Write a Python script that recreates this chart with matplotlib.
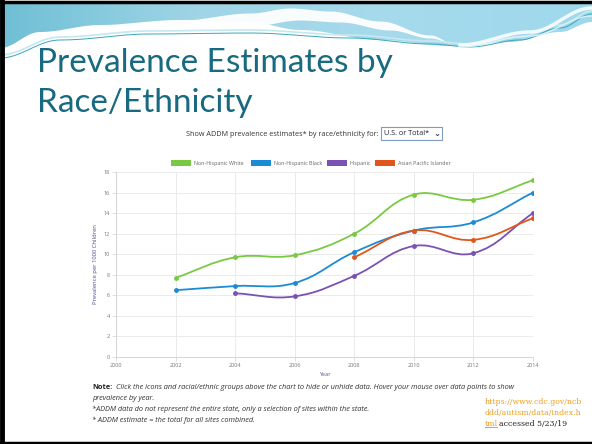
import numpy as np
import matplotlib.pyplot as plt
from matplotlib.path import Path
from matplotlib.patches import PathPatch, Rectangle
from matplotlib.colors import LinearSegmentedColormap

# ----------------------------------------------------
# Data
# ----------------------------------------------------
years = [2002, 2004, 2006, 2008, 2010, 2012, 2014]
white = [7.7, 9.7, 9.9, 12.0, 15.8, 15.3, 17.2]
black = [6.5, 6.9, 7.2, 10.2, 12.3, 13.1, 16.0]
hisp_years = [2004, 2006, 2008, 2010, 2012, 2014]
hispanic = [6.2, 5.9, 7.9, 10.8, 10.1, 14.0]
api_years = [2008, 2010, 2012, 2014]
api = [9.7, 12.3, 11.4, 13.5]

series_names = ["Non-Hispanic White", "Non-Hispanic Black", "Hispanic",
                "Asian Pacific Islander"]
colors = ["#7ac943", "#1c8bd6", "#7a52b3", "#e0561c"]

x_ticks = list(range(2000, 2015, 2))
y_ticks = list(range(0, 19, 2))

W, H = 592, 444


def smooth_path(xs, ys, sx=29.8, sy=10.28, tension=0.4):
    """Bezier path through the points, chart.js style control points."""
    px = np.array(xs, dtype=float)
    py = np.array(ys, dtype=float)
    n = len(px)
    cps = []
    for i in range(n):
        prv = max(i - 1, 0)
        nxt = min(i + 1, n - 1)
        d01 = np.hypot((px[i] - px[prv]) * sx, (py[i] - py[prv]) * sy)
        d12 = np.hypot((px[nxt] - px[i]) * sx, (py[nxt] - py[i]) * sy)
        tot = d01 + d12 if d01 + d12 > 0 else 1
        fa = tension * d01 / tot
        fb = tension * d12 / tot
        dx = px[nxt] - px[prv]
        dy = py[nxt] - py[prv]
        cps.append(((px[i] - fa * dx, py[i] - fa * dy),
                    (px[i] + fb * dx, py[i] + fb * dy)))
    verts = [(px[0], py[0])]
    codes = [Path.MOVETO]
    for i in range(n - 1):
        verts += [cps[i][1], cps[i + 1][0], (px[i + 1], py[i + 1])]
        codes += [Path.CURVE4] * 3
    return Path(verts, codes)


def curve(xp, yp, xs):
    # smooth-ish decoration curve (cosine easing between knots)
    out = np.empty_like(xs)
    for k, x in enumerate(xs):
        i = np.clip(np.searchsorted(xp, x) - 1, 0, len(xp) - 2)
        t = (x - xp[i]) / (xp[i + 1] - xp[i])
        t = (1 - np.cos(np.pi * np.clip(t, 0, 1))) / 2
        out[k] = yp[i] + (yp[i + 1] - yp[i]) * t
    return out


fig = plt.figure(figsize=(W / 100, H / 100), dpi=100)
fig.patch.set_facecolor("white")

# ---- slide background / decoration (pixel coords) ----
bg = fig.add_axes([0, 0, 1, 1])
bg.set_xlim(0, W)
bg.set_ylim(H, 0)
bg.axis("off")

xx = np.linspace(0, W, 400)
bot = curve([0, 40, 100, 180, 250, 300, 380, 450, 510, 560, 592],
            [48, 32, 25, 20, 22, 30, 40, 46, 42, 32, 22], xx)
grad = np.linspace(0, 1, 256).reshape(1, -1)
im = bg.imshow(grad, extent=[0, W, 60, 4], aspect="auto",
               cmap=LinearSegmentedColormap.from_list(
                   "hdr", ["#6fbfd5", "#9fd5e6", "#a6daec", "#9fd8ec"]),
               zorder=0)
im.set_clip_path(PathPatch(Path(np.column_stack(
    [np.r_[xx, xx[::-1]], np.r_[np.full_like(xx, 4), bot[::-1]]])),
    transform=bg.transData))

# white swoosh
wx = np.linspace(40, 455, 300)
up = curve([40, 100, 180, 250, 290, 330, 380, 430, 455],
           [32, 25, 20, 13, 8, 11, 21, 35, 44], wx)
lo = curve([40, 100, 180, 250, 300, 340, 390, 430, 455],
           [40, 33, 30, 26, 20, 22, 30, 38, 44], wx)
bg.fill_between(wx, up, lo, color="white", lw=0, alpha=0.95, zorder=1)
# thin teal lines
ty = curve([0, 60, 150, 250, 350, 430, 470, 520, 560, 592],
           [58, 40, 34, 33, 38, 44, 47, 40, 28, 14], xx)
bg.plot(xx, ty, color="#3aa6b8", lw=0.7, zorder=2)
bg.plot(xx, ty - 3, color="#c4e8f0", lw=1.2, zorder=2)
rx = np.linspace(460, 592, 100)
bg.plot(rx, curve([460, 530, 592], [45, 32, 8], rx), color="white", lw=2.5,
        alpha=0.85, zorder=2)
bg.plot(rx, curve([460, 530, 592], [47, 36, 16], rx), color="#d8f0f6", lw=1,
        zorder=2)

# slide border
bg.plot([2, 2], [0, H], color="black", lw=3.5, zorder=5)
bg.plot([0, W], [2, 2], color="black", lw=2.5, zorder=5)
bg.plot([0, W], [442.5, 442.5], color="black", lw=2.5, zorder=5)

# title
title_kw = dict(color="#176a80", fontsize=24, family="Lato", va="baseline")
bg.text(37, 72, "Prevalence Estimates by", **title_kw)
bg.text(37, 112, "Race/Ethnicity", **title_kw)

# chart header and dropdown
bg.text(378, 134, "Show ADDM prevalence estimates* by race/ethnicity for:",
        ha="right", va="center", fontsize=5.2, color="#333333", family="Open Sans")
bg.add_patch(Rectangle((381, 127), 61, 13, facecolor="white",
                       edgecolor="#7a9cc0", lw=0.8))
bg.text(384, 133.5, "U.S. or Total*", va="center", fontsize=5.2,
        color="#222222", family="Open Sans")
bg.text(437, 133.5, "\u2304", va="center", ha="center", fontsize=6,
        color="#333333", fontweight="bold")

# legend
lx = [171, 251, 327, 375]
for x0, name, c in zip(lx, series_names, colors):
    bg.add_patch(Rectangle((x0, 160), 20, 6, facecolor=c, edgecolor="none"))
    bg.text(x0 + 23, 163.2, name, va="center", fontsize=3.9, color="#666666",
            family="Open Sans")

# ---- chart ----
ax = fig.add_axes([116 / W, 1 - 357 / H, 417 / W, 185 / H])
for xs, ys, c in zip([years, years, hisp_years, api_years],
                     [white, black, hispanic, api], colors):
    ax.add_patch(PathPatch(smooth_path(xs, ys), facecolor="none",
                           edgecolor=c, lw=1.3, zorder=3))
    ax.plot(xs, ys, "o", color=c, ms=2.5, zorder=4)

ax.set_xlim(2000, 2014)
ax.set_ylim(0, 18)
ax.set_xticks(x_ticks)
ax.set_yticks(y_ticks)
ax.grid(True, color="#e8e8e8", lw=0.6)
ax.set_axisbelow(True)
for s in ["top", "right"]:
    ax.spines[s].set_visible(False)
for s in ["left", "bottom"]:
    ax.spines[s].set_color("#d0d0d0")
    ax.spines[s].set_linewidth(0.6)
ax.tick_params(axis="both", labelsize=4, colors="#d0d0d0", labelcolor="#777777",
               length=3, width=0.5, pad=1.5)
for lab in ax.get_xticklabels() + ax.get_yticklabels():
    lab.set_family("Open Sans")
ax.set_xlabel("Year", fontsize=4, color="#55558a", labelpad=3, family="Open Sans")
ax.set_ylabel("Prevalence per 1000 Children", fontsize=4.2, color="#4a4a8c",
              labelpad=4, family="Open Sans")

# ---- notes below chart ----
note_kw = dict(fontsize=5.3, color="#333333", family="Open Sans", style="italic",
               va="baseline")
bg.text(92, 388.5, "Note:", fontsize=5.3, color="#222222", family="Open Sans",
        fontweight="bold", va="baseline")
bg.text(116, 388.5, "Click the icons and racial/ethnic groups above the chart to hide "
        "or unhide data. Hover your mouse over data points to show", **note_kw)
bg.text(92, 399.5, "prevalence by year.", **note_kw)
bg.text(92, 410.5, "*ADDM data do not represent the entire state, only a selection of "
        "sites within the state.", **note_kw)
bg.text(92, 421.5, "* ADDM estimate = the total for all sites combined.", **note_kw)

link_kw = dict(fontsize=5.6, family="DejaVu Serif", va="baseline")
bg.text(485, 404, "https://www.cdc.gov/ncb", color="#f0a020", **link_kw)
bg.text(485, 415, "ddd/autism/data/index.h", color="#f0a020", **link_kw)
bg.text(485, 425.5, "tml", color="#f0a020", **link_kw)
bg.plot([485, 497], [427, 427], color="#f0a020", lw=0.7)
bg.text(499, 425.5, "accessed 5/23/19", color="#222222", **link_kw)

fig.savefig("out.png", dpi=100)
